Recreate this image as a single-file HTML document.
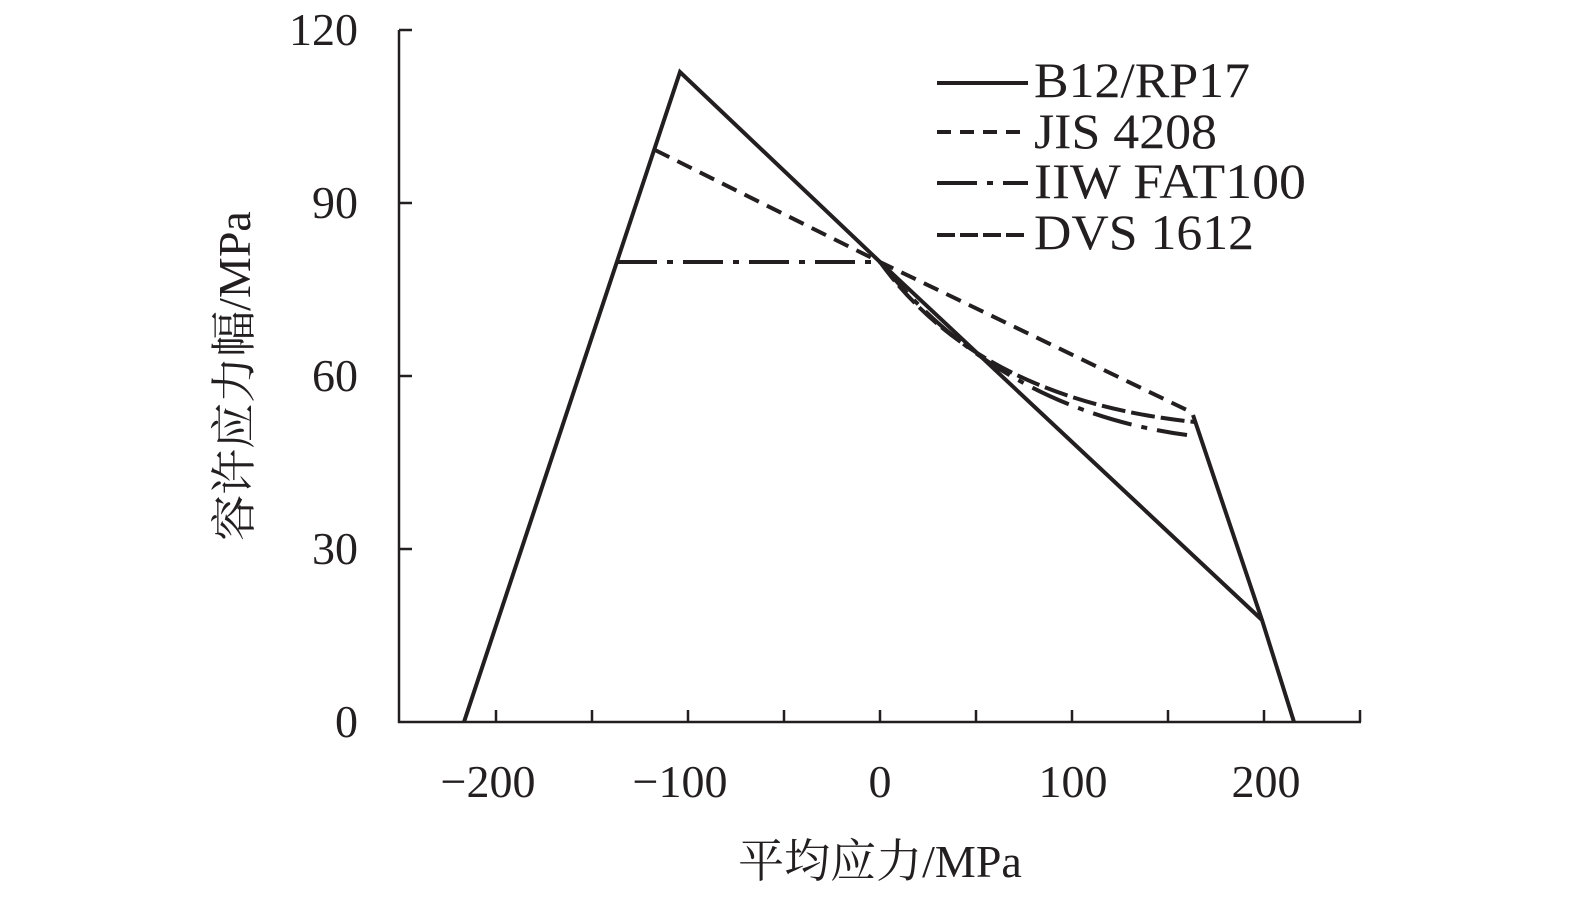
<!DOCTYPE html>
<html><head><meta charset="utf-8"><style>body{margin:0;background:#fff}</style></head><body>
<svg width="1575" height="900" xmlns="http://www.w3.org/2000/svg" font-family="'Liberation Serif','Noto Serif CJK SC',serif" fill="#231f20">
<g stroke="#231f20" stroke-width="2.5" fill="none">
<line x1="399" y1="30" x2="399" y2="723"/>
<line x1="398" y1="722" x2="1361" y2="722"/>
<line x1="399" y1="30" x2="412" y2="30"/><line x1="399" y1="203" x2="412" y2="203"/><line x1="399" y1="376" x2="412" y2="376"/><line x1="399" y1="549" x2="412" y2="549"/>
<g><line x1="496" y1="722" x2="496" y2="710"/><line x1="592" y1="722" x2="592" y2="710"/><line x1="688" y1="722" x2="688" y2="710"/><line x1="784" y1="722" x2="784" y2="710"/><line x1="880" y1="722" x2="880" y2="710"/><line x1="976" y1="722" x2="976" y2="710"/><line x1="1072" y1="722" x2="1072" y2="710"/><line x1="1168" y1="722" x2="1168" y2="710"/><line x1="1264" y1="722" x2="1264" y2="710"/><line x1="1360" y1="722" x2="1360" y2="710"/></g>
</g>
<g stroke="#231f20" stroke-width="4" fill="none">
<polyline points="464,722 680,72 880,262 1262,620"/>
<polyline points="1193,415 1262,620 1294,722"/>
<polyline points="655,150 880,262 1193,413" stroke-dasharray="16,9"/>
<path d="M617,262 L880,262 Q1000,410 1187,435" stroke-dasharray="40,10,6,10"/>
<path d="M880,262 Q980,400 1195,422" stroke-dasharray="24,6"/>
<line x1="937" y1="83" x2="1028" y2="83"/>
<line x1="937" y1="132" x2="1028" y2="132" stroke-dasharray="14,9"/>
<line x1="937" y1="183" x2="1028" y2="183" stroke-dasharray="40,10,6,10"/>
<line x1="937" y1="235" x2="1028" y2="235" stroke-dasharray="18,5"/>
</g>
<g font-size="46">
<g font-size="50">
<text x="1034" y="97" textLength="216" lengthAdjust="spacingAndGlyphs">B12/RP17</text>
<text x="1034" y="148" textLength="183" lengthAdjust="spacingAndGlyphs">JIS 4208</text>
<text x="1034" y="198" textLength="272" lengthAdjust="spacingAndGlyphs">IIW FAT100</text>
<text x="1034" y="249" textLength="220" lengthAdjust="spacingAndGlyphs">DVS 1612</text>
</g>
<g text-anchor="end"><text x="358" y="45">120</text><text x="358" y="218">90</text><text x="358" y="391">60</text><text x="358" y="564">30</text><text x="358" y="737">0</text></g>
<g text-anchor="middle"><text x="488" y="797">−200</text><text x="680" y="797">−100</text><text x="880" y="797">0</text><text x="1073" y="797">100</text><text x="1266" y="797">200</text>
<text x="880" y="877">平均应力/MPa</text>
<text transform="translate(250,376) rotate(-90)">容许应力幅/MPa</text></g>
</g>
</svg>
</body></html>
